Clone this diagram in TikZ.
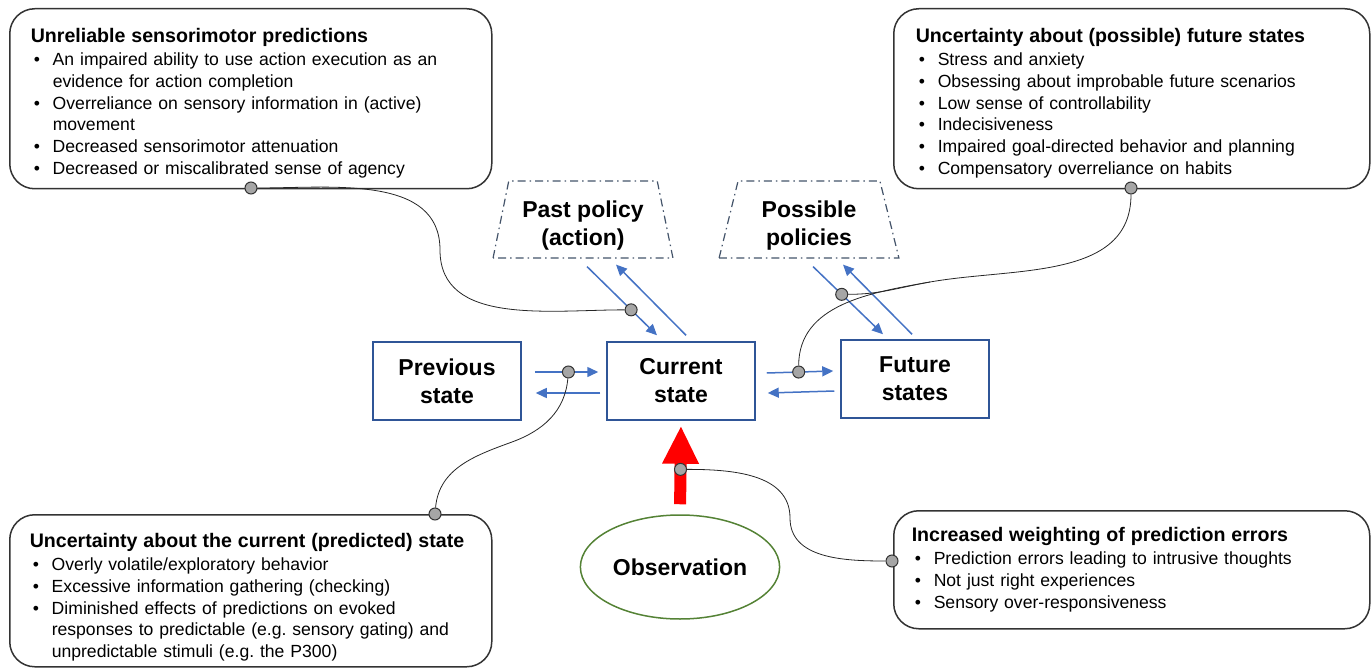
\documentclass[tikz,border=0pt]{standalone}
\usepackage{fontspec}
\setmainfont{Liberation Sans}
\usetikzlibrary{shapes.geometric,arrows.meta,calc}
\definecolor{boxblue}{HTML}{2F5597}
\definecolor{flowblue}{HTML}{4472C4}
\definecolor{slate}{HTML}{44546A}
\definecolor{obsgreen}{HTML}{548235}
\definecolor{dotgray}{HTML}{A6A6A6}
\setlength{\parindent}{0pt}
\frenchspacing
\newcommand{\bul}[1]{\par\hangindent=22pt\hangafter=1\noindent\hbox to 22pt{\hspace{3pt}\textbullet\hfil}#1\par}
\newcommand{\notetitle}[1]{{\bfseries\fontsize{19.6}{23}\selectfont\mbox{#1}\par}\vspace{1.3pt}}

\begin{document}
\begin{tikzpicture}[x=1pt, y=-1pt,
  state/.style={draw=boxblue, line width=1.5pt, minimum width=148pt, minimum height=78pt, align=center, font=\bfseries\fontsize{23}{28}\selectfont},
  policy/.style={trapezium, trapezium stretches=true, trapezium left angle=77, trapezium right angle=77, draw=slate, line width=1.2pt, dash pattern=on 8pt off 4pt on 1.5pt off 4pt, minimum width=180pt, minimum height=77pt, align=center, text height=52pt, text depth=0pt, font=\bfseries\fontsize{23}{28}\selectfont},
  note/.style={draw=black!80, line width=1.5pt, rounded corners=25pt, anchor=north west, align=left, font=\fontsize{17.6}{21.7}\selectfont, inner xsep=21pt, inner ysep=0pt, text width=440pt, text height=34pt, text depth=146pt},
  flow/.style={flowblue, line width=1.5pt, -{Triangle[length=11pt,width=10pt]}},
  dot/.style={circle, draw=black!80, fill=dotgray, line width=1pt, inner sep=0pt, minimum size=12pt},
  link/.style={black!85, line width=0.8pt}]
 \useasboundingbox (0,0) rectangle (1372,668);

 \node[note] (tl) at (9,8) {\notetitle{Unreliable sensorimotor predictions}
   \bul{An impaired ability to use action execution as an\newline evidence for action completion}
   \bul{Overreliance on sensory information in (active)\newline movement}
   \bul{Decreased sensorimotor attenuation}
   \bul{Decreased or miscalibrated sense of agency}};
 \node[note, inner xsep=22pt, text width=432pt] (tr) at (893,8) {\notetitle{Uncertainty about (possible) future states}
   \bul{Stress and anxiety}
   \bul{Obsessing about improbable future scenarios}
   \bul{Low sense of controllability}
   \bul{Indecisiveness}
   \bul{Impaired goal-directed behavior and planning}
   \bul{Compensatory overreliance on habits}};
 \node[note, inner xsep=20pt, text width=442pt, text height=33pt, text depth=119pt] (bl) at (9,514) {\notetitle{Uncertainty about the current (predicted) state}
   \bul{Overly volatile/exploratory behavior}
   \bul{Excessive information gathering (checking)}
   \bul{Diminished effects of predictions on evoked\newline responses to predictable (e.g. sensory gating) and\newline unpredictable stimuli (e.g. the P300)}};
 \node[note, inner xsep=18pt, text height=31pt, text depth=87pt] (br) at (893,510) {\notetitle{Increased weighting of prediction errors}
   \bul{Prediction errors leading to intrusive thoughts}
   \bul{Not just right experiences}
   \bul{Sensory over-responsiveness}};

 \node[state] (prev) at (447,381) {Previous\\state};
 \node[state] (cur) at (681,381) {Current\\state};
 \node[state] (fut) at (915,379) {Future\\states};
 \node[policy] (past) at (583,219.5) {Past policy\\(action)};
 \node[policy] (poss) at (809,219.5) {Possible\\policies};
 \node[ellipse, draw=obsgreen, line width=1.5pt, minimum width=190pt, minimum height=104pt, font=\bfseries\fontsize{23}{28}\selectfont] (obs) at (680,567) {Observation};

 \draw[flow] ($(prev.east)+(13,-9)$) -- node[dot, pos=.53] (pd) {} ($(cur.west)+(-8,-9)$);
 \draw[flow] ($(cur.west)+(-6,12)$) -- ($(prev.east)+(14,12)$);
 \draw[flow] ($(cur.east)+(11,-8)$) -- node[dot, pos=.48] (cd) {} ($(fut.west)+(-7,-8)$);
 \draw[flow] ($(fut.west)+(-6,12)$) -- ($(cur.east)+(12,12)$);
 \draw[flow] ($(past.south)+(4,8)$) -- node[dot, pos=.63] (pad) {} ($(cur.north)+(-24,-6)$);
 \draw[flow] ($(cur.north)+(5,-6)$) -- ($(past.south)+(33,6)$);
 \draw[flow] ($(poss.south)+(4,8)$) -- node[dot, pos=.41] (psd) {} ($(fut.north)+(-32,-5)$);
 \draw[flow] ($(fut.north)+(-3,-5)$) -- ($(poss.south)+(34,6)$);
 \draw[red, line width=12pt, -{Triangle[length=38pt,width=34pt]}, shorten <=10pt, shorten >=5pt] (obs.north) -- node[dot, pos=.48] (od) {} (cur.south);

 \node[dot] (tld) at (251,188) {};
 \node[dot] (trd) at (1131,188) {};
 \node[dot] (bld) at (435,514) {};
 \node[dot] (brd) at (892,561) {};

 \coordinate (m1) at (440,250);
 \coordinate (m2) at (930,282);
 \coordinate (m3) at (512,442);
 \coordinate (m4) at (790,518);
 \draw[link] (tld) to[out=0, in=90] (m1) to[out=-90, in=180] (pad);
 \draw[link] (trd) to[out=-90, in=10] (m2) to[out=190, in=90] (cd);
 \draw[link] (psd) to[out=0, in=190] (m2);
 \draw[link] (pd) to[out=-95, in=20] (m3) to[out=200, in=85] (bld);
 \draw[link] (od) to[out=0, in=90] (m4) to[out=-90, in=180] (brd);
\end{tikzpicture}
\end{document}
